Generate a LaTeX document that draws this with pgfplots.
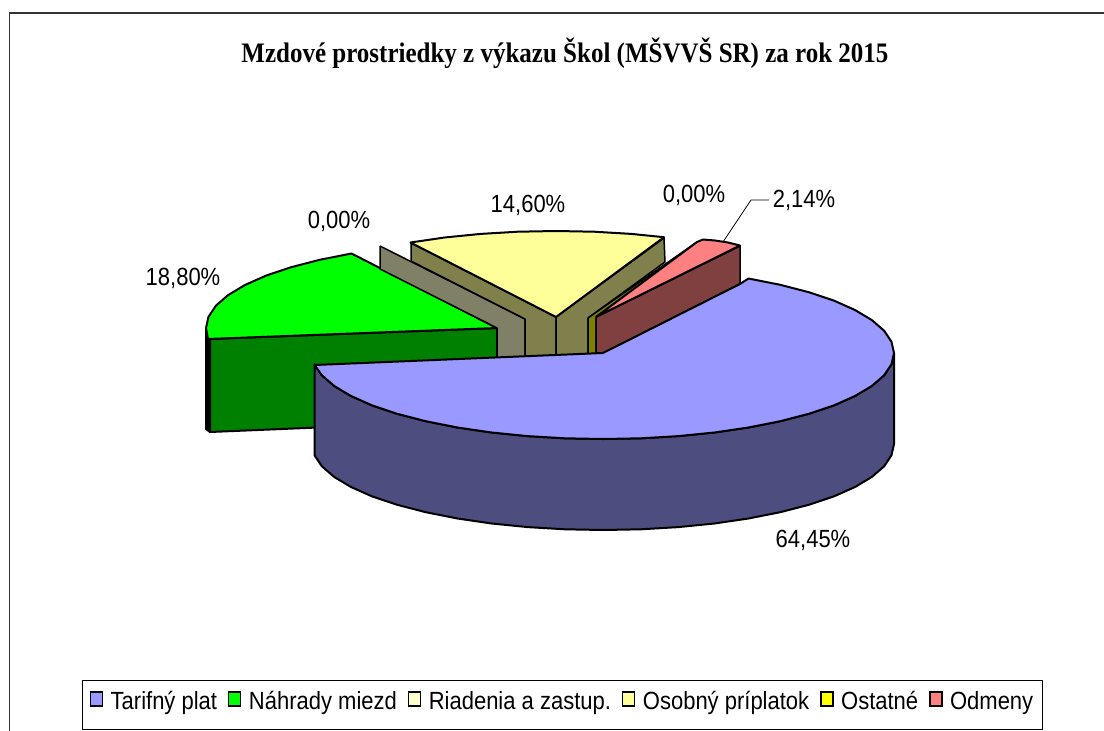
\documentclass[border=0pt]{standalone}
\usepackage{graphicx}
\usepackage{pgfplots}
\pgfplotsset{compat=1.18}
\usepackage{fontspec}
\setmainfont{Liberation Sans}
\newfontfamily\timesf{Liberation Serif}
\newcommand\tallt[1]{\scalebox{1}[1.13]{#1}}
\definecolor{tarif}{HTML}{9999FF}
\definecolor{tarifd}{HTML}{4D4D80}
\definecolor{nahr}{HTML}{00FF00}
\definecolor{nahrd}{HTML}{008000}
\definecolor{riad}{HTML}{FFFFCC}
\definecolor{riadd}{HTML}{808066}
\definecolor{osob}{HTML}{FFFF99}
\definecolor{osobd}{HTML}{80804D}
\definecolor{ostat}{HTML}{FFFF00}
\definecolor{ostatd}{HTML}{808000}
\definecolor{odm}{HTML}{FF8080}
\definecolor{odmd}{HTML}{804040}
\begin{document}
\begin{tikzpicture}
\path[use as bounding box] (0,0) rectangle (1104pt,731pt);
\begin{axis}[
  at={(0,0)},anchor=south west,
  width=1104pt,height=731pt,scale only axis,
  xmin=0,xmax=1104,ymin=0,ymax=731,y dir=reverse,
  hide axis,
  legend columns=6,
  legend cell align=left,
  legend image code/.code={\draw[#1,line width=1.4pt] (0pt,-1pt) rectangle (12pt,13pt);},
  legend style={at={(axis cs:562.5,705)},anchor=center,draw=black,line width=1pt,
    font=\fontsize{22}{26}\selectfont,inner xsep=7pt,inner ysep=9pt,
    /tikz/every even column/.append style={column sep=9pt},
    /tikz/every odd column/.append style={column sep=5.5pt},
    nodes={inner xsep=2pt,text depth=9pt}},
  slice/.style={draw=black,line width=2pt,line join=round,forget plot},
  wall/.style={draw=black,line width=1.5pt,line join=round,forget plot},
]
\addlegendimage{fill=tarif,draw=black}\addlegendentry{\tallt{Tarifný plat}}
\addlegendimage{fill=nahr,draw=black}\addlegendentry{\tallt{Náhrady miezd}}
\addlegendimage{fill=riad,draw=black}\addlegendentry{\tallt{Riadenia a zastup.}}
\addlegendimage{fill=osob,draw=black}\addlegendentry{\tallt{Osobný príplatok}}
\addlegendimage{fill=ostat,draw=black}\addlegendentry{\tallt{Ostatné}}
\addlegendimage{fill=odm,draw=black}\addlegendentry{\tallt{Odmeny}}
% chart frame
\addplot[draw=black!80,line width=2pt,forget plot] coordinates {(1104,12.5) (9,12.5)};
\addplot[draw=black!80,line width=1pt,forget plot] coordinates {(9,12.5) (9,731)};
% green
\addplot[slice,fill=black] coordinates {(206,328) (206,429) (210,432) (210,339) (206,328)};
\addplot[slice,fill=nahrd] coordinates {(210,339) (497,328) (497,420) (210,432) (210,339)};
\addplot[slice,fill=nahr] coordinates {(497,328) (351.5,253.5) (319.8,259.8) (291.2,267.2) (266.1,275.6) (245,285) (228.1,295.1) (215.9,305.7) (208.5,316.8) (206,328) (208,339) (497,328)};
% grey wall (Riadenia)
\addplot[wall,fill=riadd] coordinates {(380,246) (525,319) (525,365) (497,365) (497,328) (380,269) (380,246)};
% Osobny
\addplot[wall,fill=osobd] coordinates {(411,243) (556,317) (556,365) (525,365) (525,319) (411,261) (411,243)};
\addplot[wall,fill=osobd] coordinates {(556,317) (664,238) (665,262) (588,318) (588,365) (556,365) (556,317)};
\addplot[slice,fill=osob] coordinates {(556,317) (410.5,242.5) (444.6,237.5) (480.7,233.9) (518,231.7) (556,231) (594,231.7) (631.3,233.9) (664,237.2) (556,317)};
% Ostatne
\addplot[wall,fill=ostatd] coordinates {(588,318) (697,242) (697,246) (596,317) (596,365) (588,365) (588,318)};
% Odmeny
\addplot[wall,fill=odmd] coordinates {(596,317) (740,246) (740,284) (603,353) (596,353) (596,317)};
\addplot[slice,fill=odm] coordinates {(596,317) (697,242) (703,239.5) (715,240.5) (728,242.5) (740,245.5) (596,317)};
% Tarifny
\addplot[wall,line width=2pt,fill=tarifd] coordinates {(894,353) (891.5,364.2) (884.1,375.3) (871.9,385.9) (855,396) (833.9,405.4) (808.8,413.8) (780.2,421.2) (748.5,427.5) (714.4,432.5) (678.3,436.1) (641,438.3) (603,439) (565,438.3) (527.7,436.1) (491.6,432.5) (457.5,427.5) (425.8,421.2) (397.2,413.8) (372.1,405.4) (351,396) (334.1,385.9) (321.9,375.3) (314.5,364.2)
 (314.5,455.2) (321.9,466.3) (334.1,476.9) (351,487) (372.1,496.4) (397.2,504.8) (425.8,512.2) (457.5,518.5) (491.6,523.5) (527.7,527.1) (565,529.3) (603,530) (641,529.3) (678.3,527.1) (714.4,523.5) (748.5,518.5) (780.2,512.2) (808.8,504.8) (833.9,496.4) (855,487) (871.9,476.9) (884.1,466.3) (891.5,455.2) (894,444) (894,353)};
\addplot[slice,fill=tarif] coordinates {(314.5,365) (603,353) (740,284) (748.5,278.5) (780.2,284.8) (808.8,292.2) (833.9,300.6) (855,310) (871.9,320.1) (884.1,330.7) (891.5,341.8) (894,353) (891.5,364.2) (884.1,375.3) (871.9,385.9) (855,396) (833.9,405.4) (808.8,413.8) (780.2,421.2) (748.5,427.5) (714.4,432.5) (678.3,436.1) (641,438.3) (603,439) (565,438.3) (527.7,436.1) (491.6,432.5) (457.5,427.5) (425.8,421.2) (397.2,413.8) (372.1,405.4) (351,396) (334.1,385.9) (321.9,375.3) (314.5,365)};
% leader
\addplot[draw=black,line width=0.8pt,forget plot] coordinates {(723,242) (751,200) (769,200)};
% texts
\node[font=\timesf\bfseries\fontsize{25}{28}\selectfont] at (axis cs:565,53) {\scalebox{1}[1.13]{Mzdové prostriedky z výkazu Škol (MŠVVŠ SR) za rok 2015}};
\node[font=\fontsize{22}{26}\selectfont] at (axis cs:183,278) {\tallt{18,80\%}};
\node[font=\fontsize{22}{26}\selectfont] at (axis cs:339,221) {\tallt{0,00\%}};
\node[font=\fontsize{22}{26}\selectfont] at (axis cs:528,205) {\tallt{14,60\%}};
\node[font=\fontsize{22}{26}\selectfont] at (axis cs:694,195) {\tallt{0,00\%}};
\node[font=\fontsize{22}{26}\selectfont] at (axis cs:804,200) {\tallt{2,14\%}};
\node[font=\fontsize{22}{26}\selectfont] at (axis cs:813,540) {\tallt{64,45\%}};
\end{axis}
\end{tikzpicture}
\end{document}
